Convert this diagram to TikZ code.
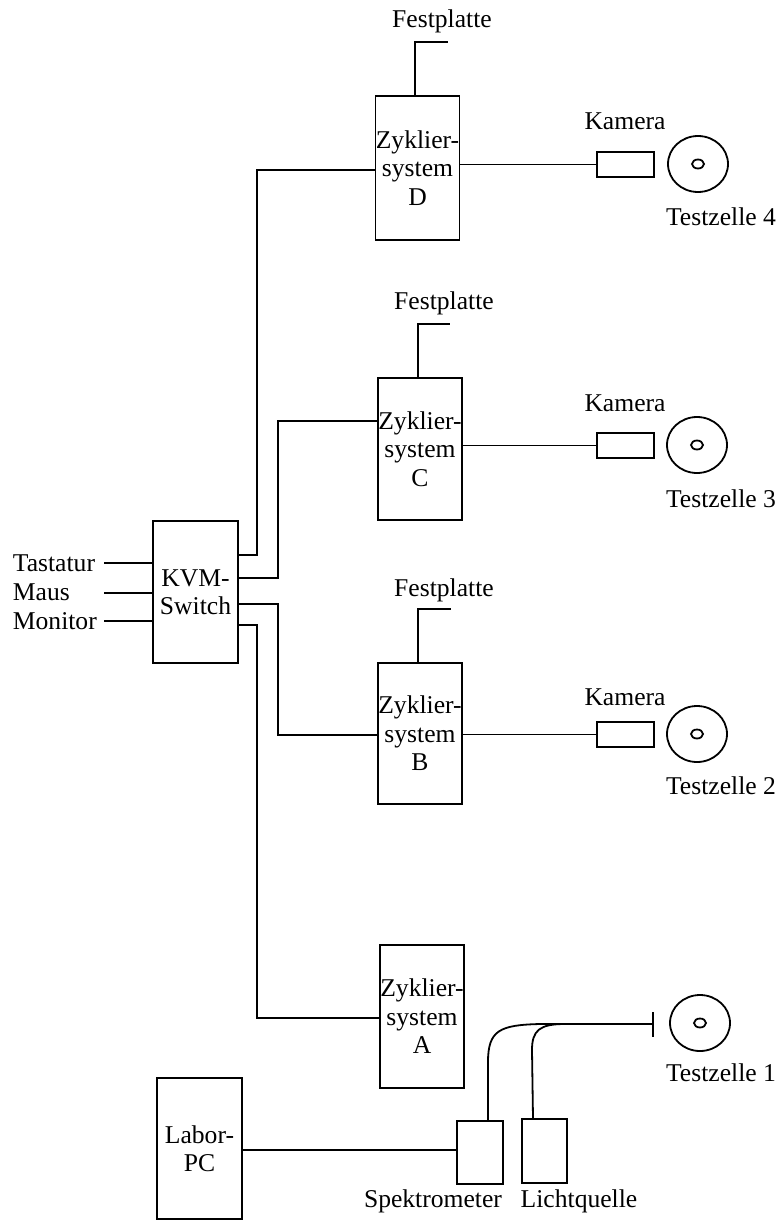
\documentclass[tikz,border=0pt]{standalone}
\usepackage{fontspec}
\setmainfont{Liberation Serif}
\usetikzlibrary{shapes.geometric}
\begin{document}
\begin{tikzpicture}[x=1pt,y=-1pt,line width=1.8pt,
  every node/.style={font=\fontsize{25.6}{28.5}\selectfont},
  box/.style={draw,inner sep=0pt,align=center},
  cam/.style={draw,inner sep=0pt,minimum width=57pt,minimum height=25pt},
  cell/.style={draw,ellipse,inner sep=0pt,minimum width=60pt,minimum height=56pt},
  hole/.style={draw,ellipse,inner sep=0pt,minimum width=12pt,minimum height=9pt},
  lbl/.style={inner sep=1pt}]
\useasboundingbox (0,0) rectangle (781,1221);
% KVM
\node[box,minimum width=85pt,minimum height=142pt] (kvm) at (195.5,592) {KVM-\\Switch};
\node[lbl,anchor=west] (tast) at (11,563) {Tastatur};
\node[lbl,anchor=west] (maus) at (11,592) {Maus};
\node[lbl,anchor=west] (moni) at (11,621) {Monitor};
\coordinate (tastE) at (104,563);
\coordinate (mausE) at (104,593);
\coordinate (moniE) at (104,621);
\draw (tastE) -- (kvm.west |- tastE);
\draw (mausE) -- (kvm.west |- mausE);
\draw (moniE) -- (kvm.west |- moniE);
% Zyklier systems
\node[box,minimum width=84pt,minimum height=144pt] (D) at (417.5,168) {Zyklier-\\system\\D};
\node[box,minimum width=84pt,minimum height=142pt] (C) at (420,449) {Zyklier-\\system\\C};
\node[box,minimum width=84pt,minimum height=141pt] (B) at (420,733.5) {Zyklier-\\system\\B};
\node[box,minimum width=82pt,minimum height=143pt] (A) at (422,1016.5) {Zyklier-\\system\\A};
% KVM to systems
\coordinate (kD) at (238,555);
\coordinate (kC) at (238,578);
\coordinate (kB) at (238,604);
\coordinate (kA) at (238,625);
\draw (kD) -- (257,555) |- (D.west |- 0,170);
\draw (kC) -- (278,578) |- (C.west |- 0,421);
\draw (kB) -- (278,604) |- (B.west |- 0,735);
\draw (kA) -- (257,625) |- (A.west |- 0,1018);
% Festplatte
\node[lbl] (fD) at (442,21) {Festplatte};
\node[lbl] (fC) at (444,303) {Festplatte};
\node[lbl] (fB) at (444,590) {Festplatte};
\coordinate (fDe) at (448,42);
\coordinate (fCe) at (450,324);
\coordinate (fBe) at (451,609);
\draw (D.north -| 415,0) |- (fDe);
\draw (C.north -| 418,0) |- (fCe);
\draw (B.north -| 418,0) |- (fBe);
% Cameras and cells
\node[cam] (camD) at (625.5,164.5) {};
\node[cam] (camC) at (625.5,445.5) {};
\node[cam] (camB) at (625.5,734.5) {};
\node[lbl] (kDl) at (625,121) {Kamera};
\node[lbl] (kCl) at (625,403) {Kamera};
\node[lbl] (kBl) at (625,697) {Kamera};
\draw (D.east |- camD) -- (camD.west);
\draw (C.east |- camC) -- (camC.west);
\draw (B.east |- camB) -- (camB.west);
\node[cell] (c4) at (698,164) {};
\node[cell] (c3) at (697,445) {};
\node[cell] (c2) at (697,734) {};
\node[cell] (c1) at (700,1023) {};
\node[hole] at (c4) {};
\node[hole] at (c3) {};
\node[hole] at (c2) {};
\node[hole] at (c1) {};
\node[lbl] (t4) at (721,217) {Testzelle 4};
\node[lbl] (t3) at (721,499) {Testzelle 3};
\node[lbl] (t2) at (721,786) {Testzelle 2};
\node[lbl] (t1) at (721,1073) {Testzelle 1};
% Bottom
\node[box,minimum width=85pt,minimum height=141pt] (pc) at (199.5,1148.5) {Labor-\\PC};
\node[box,minimum width=46pt,minimum height=63pt] (spek) at (480,1152.5) {};
\node[box,minimum width=45pt,minimum height=64pt] (licht) at (544.5,1151) {};
\node[lbl] (spekl) at (433,1201) {Spektrometer};
\node[lbl] (lichtl) at (579,1201) {Lichtquelle};
\draw (pc.east |- 0,1150) -- (spek.west |- 0,1150);
\coordinate (bar) at (653,1024);
\draw (bar |- 0,1012) -- (bar |- 0,1037);
\draw (spek.north -| 488,0) -- (488,1062) .. controls (488,1030) and (500,1025) .. (540,1024) -- (bar);
\draw (licht.north -| 533,0) -- (532,1050) .. controls (532,1030) and (540,1024) .. (565,1024);
\end{tikzpicture}
\end{document}
